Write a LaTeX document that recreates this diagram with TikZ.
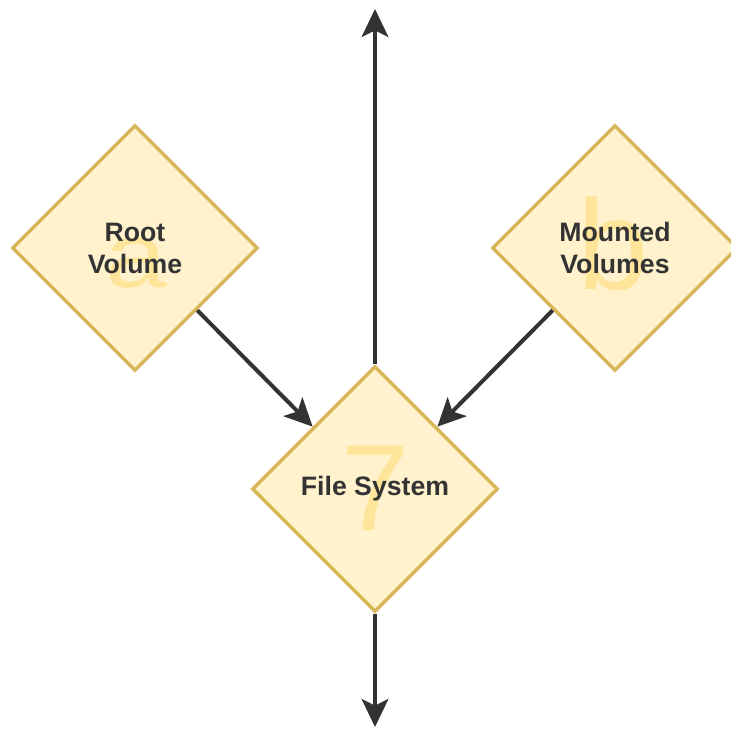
\documentclass[tikz,border=0pt]{standalone}
\usepackage{fontspec}
\setmainfont{Liberation Sans}
\usetikzlibrary{shapes.geometric,arrows.meta}
\definecolor{boxfill}{HTML}{FFF2CC}
\definecolor{boxline}{HTML}{D6B656}
\definecolor{mark}{HTML}{FFE599}
\definecolor{ink}{HTML}{333333}
\tikzset{
  decision/.style={diamond, aspect=1, draw=boxline, fill=boxfill, line width=2.6pt,
    minimum width=184.5pt, minimum height=184.5pt, inner sep=0pt,
    align=center, text=ink, font=\fontsize{20}{24}\selectfont\bfseries},
  glyph/.style={anchor=base, text=mark, inner sep=0pt},
  flow/.style={draw=ink, line width=3pt,
    -{Stealth[length=21pt, width=20pt, inset=5pt]}}
}
\begin{document}
\begin{tikzpicture}[x=0.75pt, y=-0.75pt]
\useasboundingbox (0,0) rectangle (731,728);
% shapes
\node[decision] (root) at (135,248) {};
\node[decision] (mnt) at (615,248) {};
\node[decision] (fs) at (375,489) {};
% large background glyphs
\node[glyph, font=\fontsize{69}{69}\selectfont, xscale=1.2] (ga) at (136,287) {a};
\node[glyph, font=\fontsize{96}{96}\selectfont] (gb) at (613,289) {b};
\node[glyph, font=\fontsize{92}{92}\selectfont] (g7) at (376,530) {7};
% labels
\node[align=center, text=ink, font=\fontsize{20}{24}\selectfont\bfseries] (troot) at (root.center) {Root\\Volume};
\node[align=center, text=ink, font=\fontsize{20}{24}\selectfont\bfseries] (tmnt) at (mnt.center) {Mounted\\Volumes};
\node[align=center, text=ink, font=\fontsize{20}{24}\selectfont\bfseries] (tfs) at (fs.center) {File System};
% connectors
\coordinate (up) at (375,9);
\coordinate (down) at (375,727);
\draw[flow] (root.south east) -- (fs.north west);
\draw[flow] (mnt.south west) -- (fs.north east);
\draw[flow] (fs.north) -- (up);
\draw[flow] (fs.south) -- (down);
\end{tikzpicture}
\end{document}
